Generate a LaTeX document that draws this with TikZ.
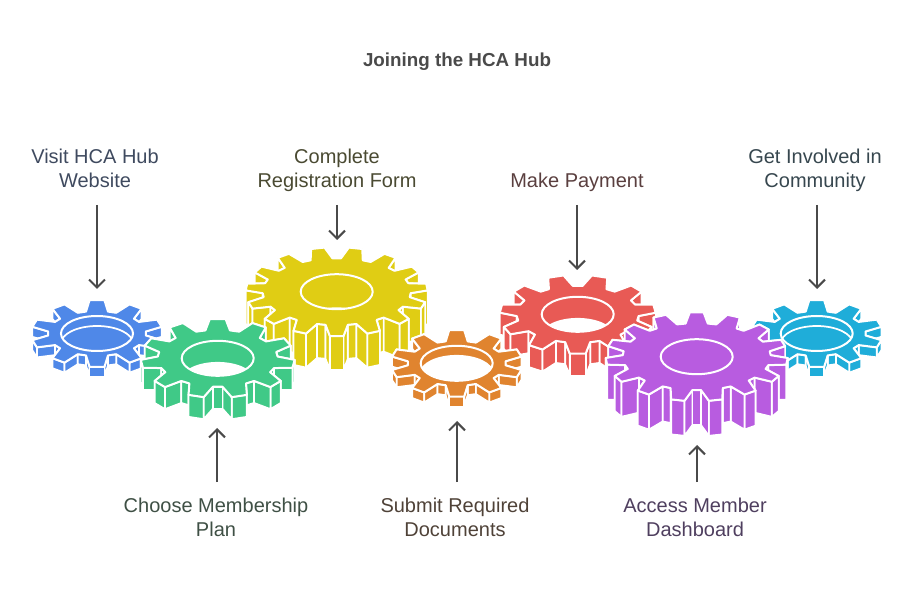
\documentclass[tikz,border=0pt]{standalone}
\usepackage{fontspec}
\usepackage{tikz}
\usetikzlibrary{arrows.meta}
\setmainfont{Liberation Sans}

\definecolor{gblue}{HTML}{4F88E8}
\definecolor{ggreen}{HTML}{40C987}
\definecolor{gyellow}{HTML}{E0CD14}
\definecolor{gred}{HTML}{E85A55}
\definecolor{gorange}{HTML}{E0842F}
\definecolor{gpurple}{HTML}{B85CE0}
\definecolor{gcyan}{HTML}{1FADD9}
\definecolor{tblue}{HTML}{3F4A5F}
\definecolor{tgreen}{HTML}{3F5045}
\definecolor{tyellow}{HTML}{4A4A32}
\definecolor{tred}{HTML}{5A3F3F}
\definecolor{torange}{HTML}{4F4238}
\definecolor{tpurple}{HTML}{4F3F5F}
\definecolor{tcyan}{HTML}{37474F}
\definecolor{tgrey}{HTML}{4A4A4A}

% one wall piece, hanging below the outline between two points (angle, x radius, y radius)
\newcommand{\gearwall}[6]{%
  \pgfmathtruncatemacro{\wallon}{\gside*((#1+#4)/2-90)<180.5 ? 1 : 0}%
  \ifnum\wallon=1
    \fill[\gcol,draw=white,line width=1.3pt,line join=round]
      ({\gx+#2*cos(#1)},{\gy-#3*sin(#1)}) --
      ({\gx+#5*cos(#4)},{\gy-#6*sin(#4)}) --
      ({\gx+#5*cos(#4)},{\gy-#6*sin(#4)+\gd}) --
      ({\gx+#2*cos(#1)},{\gy-#3*sin(#1)+\gd}) -- cycle;
  \fi}

% x, y, rx, ry, teeth, angle of a tooth near the top, depth, colour, colour seen through the hole
\newcommand{\drawgear}[9]{%
  \def\gx{#1}\def\gy{#2}\def\gd{#7}\def\gcol{#8}%
  \pgfmathsetmacro{\gs}{360/#5}%
  \pgfmathsetmacro{\gvx}{#3-17}%
  \pgfmathsetmacro{\gvy}{#4-11}%
  \pgfmathsetmacro{\gtip}{0.18*\gs}%
  \pgfmathsetmacro{\gbase}{0.36*\gs}%
  \pgfmathtruncatemacro{\ghalf}{#5/2+1}%
  \foreach \gside in {-1,1}{
    \foreach \k in {0,...,\ghalf}{
      \pgfmathsetmacro{\ga}{#6+\gside*\k*\gs}
      \pgfmathsetmacro{\gp}{\ga-\gside*\gbase}
      \pgfmathsetmacro{\gq}{\ga-\gside*\gtip}
      \pgfmathsetmacro{\gr}{\ga+\gside*\gtip}
      \pgfmathsetmacro{\gt}{\ga+\gside*\gbase}
      \pgfmathsetmacro{\gu}{\ga+\gside*(\gs-\gbase)}
      \gearwall{\gp}{\gvx}{\gvy}{\gq}{#3}{#4}
      \gearwall{\gq}{#3}{#4}{\gr}{#3}{#4}
      \gearwall{\gr}{#3}{#4}{\gt}{\gvx}{\gvy}
      \gearwall{\gt}{\gvx}{\gvy}{\gu}{\gvx}{\gvy}
    }
  }
  \pgfmathtruncatemacro{\glast}{#5-1}%
  \fill[#8,draw=white,line width=1.5pt,line join=round]
    ({#1+\gvx*cos(#6-\gbase)},{#2-\gvy*sin(#6-\gbase)})
    foreach \k in {0,...,\glast}{
      -- ({#1+#3*cos(#6+\k*\gs-\gtip)},{#2-#4*sin(#6+\k*\gs-\gtip)})
      -- ({#1+#3*cos(#6+\k*\gs+\gtip)},{#2-#4*sin(#6+\k*\gs+\gtip)})
      -- ({#1+\gvx*cos(#6+\k*\gs+\gbase)},{#2-\gvy*sin(#6+\k*\gs+\gbase)})
      -- ({#1+\gvx*cos(#6+\k*\gs+\gs-\gbase)},{#2-\gvy*sin(#6+\k*\gs+\gs-\gbase)})
    } -- cycle;
  \begin{scope}
    \clip (#1,#2) ellipse [x radius=36,y radius=17.5];
    \fill[#9,draw=white,line width=1.3pt] (#1,#2+#7) ellipse [x radius=36,y radius=17.5];
  \end{scope}
  \draw[white,line width=1.5pt] (#1,#2) ellipse [x radius=36,y radius=17.5];
}

\begin{document}
\begin{tikzpicture}[x=0.75pt,y=-0.75pt]
\tikzset{lab/.style={align=center,anchor=base,font=\fontsize{15}{18}\selectfont,inner sep=0pt},
  flow/.style={draw=tgrey,line width=1.5pt,-{Straight Barb[length=6pt,width=12pt,line width=1.5pt]}}}
\useasboundingbox (0,0) rectangle (914,591);

\node[anchor=base,font=\bfseries\fontsize{14.1}{16}\selectfont,text=tgrey] (title) at (457,67) {Joining the HCA Hub};

% gears, back to front
\drawgear{97}{333.5}{66}{33.5}{10}{90}{10}{gblue}{gblue}
\drawgear{336.7}{291.7}{91}{44.5}{15}{78}{34}{gyellow}{white}
\drawgear{217.7}{358.3}{77}{39.5}{11}{90}{22}{ggreen}{white}
\drawgear{577.7}{314.3}{78}{39.5}{11}{73.636}{22}{gred}{white}
\drawgear{456.7}{363.3}{66}{33.5}{10}{90}{10}{gorange}{white}
\drawgear{816.7}{333.5}{66}{33.5}{10}{90}{10}{gcyan}{gcyan}
\drawgear{696.7}{356.7}{91}{44.5}{15}{90}{35}{gpurple}{white}

\node[lab,text=tblue] (visit) at (95,188) {Visit HCA Hub\\Website};
\node[lab,text=tyellow] (complete) at (337,188) {Complete\\Registration Form};
\node[lab,text=tred] (payment) at (577,188) {Make Payment};
\node[lab,text=tcyan] (involved) at (815,188) {Get Involved in\\Community};
\node[lab,text=tgreen] (choose) at (216,536) {Choose Membership\\Plan};
\node[lab,text=torange] (submit) at (455,536) {Submit Required\\Documents};
\node[lab,text=tpurple] (access) at (695,536) {Access Member\\Dashboard};

\coordinate (visitA) at (97,205);
\coordinate (visitB) at (97,289);
\coordinate (completeA) at (337,205);
\coordinate (completeB) at (337,240);
\coordinate (paymentA) at (577,205);
\coordinate (paymentB) at (577,270);
\coordinate (involvedA) at (817,205);
\coordinate (involvedB) at (817,289);
\coordinate (chooseA) at (217,482);
\coordinate (chooseB) at (217,428);
\coordinate (submitA) at (457,482);
\coordinate (submitB) at (457,421);
\coordinate (accessA) at (697,482);
\coordinate (accessB) at (697,445);

\draw[flow] (visitA) -- (visitB);
\draw[flow] (completeA) -- (completeB);
\draw[flow] (paymentA) -- (paymentB);
\draw[flow] (involvedA) -- (involvedB);
\draw[flow] (chooseA) -- (chooseB);
\draw[flow] (submitA) -- (submitB);
\draw[flow] (accessA) -- (accessB);
\end{tikzpicture}
\end{document}
